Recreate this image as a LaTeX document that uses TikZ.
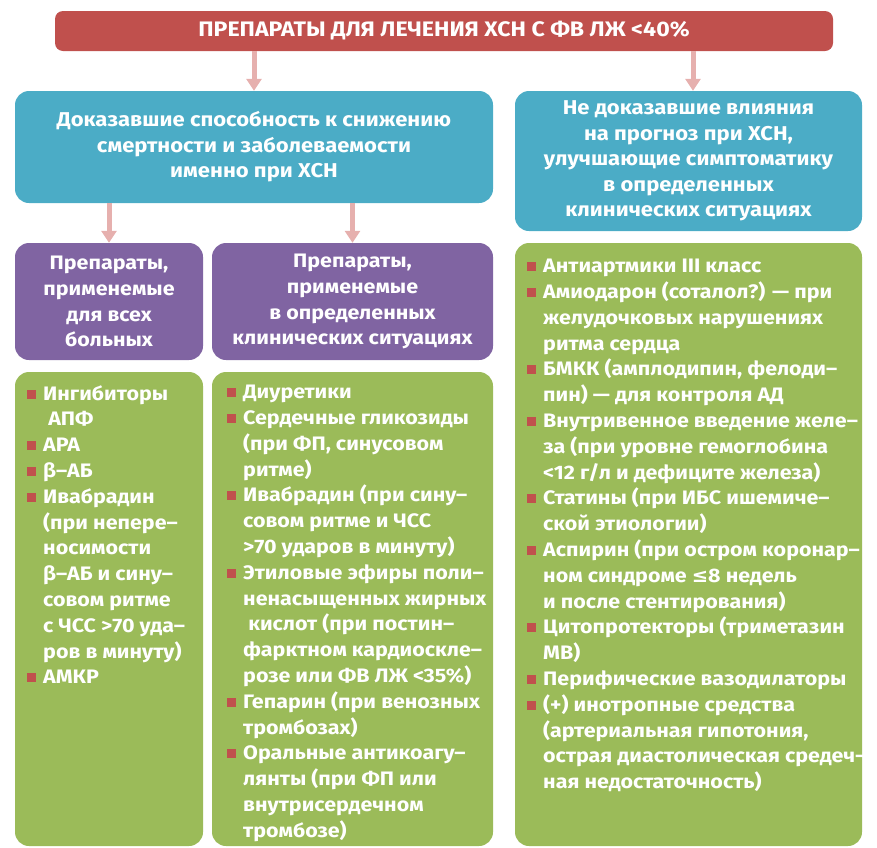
\documentclass[tikz,border=0pt]{standalone}
\usepackage{fontspec}
\setmainfont{Fira Sans}[FakeStretch=1.1]
\newfontfamily\symfont{DejaVu Sans}
\usetikzlibrary{arrows.meta}

\definecolor{boxred}{HTML}{C0504D}
\definecolor{boxaqua}{HTML}{4BACC6}
\definecolor{boxviolet}{HTML}{8064A2}
\definecolor{boxgreen}{HTML}{9BBB59}
\definecolor{arrowpink}{HTML}{E6B0AE}

\newcommand{\listfont}{\fontsize{19.5}{25.8}\selectfont\bfseries}
\newcommand{\headfont}{\fontsize{20}{25.4}\selectfont\bfseries}
\newcommand{\bul}{\makebox[16pt][l]{\textcolor{boxred}{\rule[1.5pt]{9pt}{9pt}}}}
\newcommand{\ind}{\hspace*{16pt}}

\begin{document}
\begin{tikzpicture}[x=1pt,y=-1pt,
    box/.style={rounded corners=14pt, inner sep=0pt, text=white, align=center, font=\listfont},
    link/.style={-{Triangle[width=15pt,length=12pt]}, line width=5pt, draw=arrowpink},
    list/.style={anchor=north west, inner sep=0pt, align=left, text=white, font=\listfont}]
    \useasboundingbox (0,0) rectangle (877,847);

    % top
    \node[box, rounded corners=8pt, fill=boxred, minimum width=778pt, minimum height=40pt](title) at (444,31)
        {\bfseries\fontsize{21}{23}\selectfont ПРЕПАРАТЫ ДЛЯ ЛЕЧЕНИЯ ХСН С ФВ ЛЖ <40\%};

    % second row
    \node[box, fill=boxaqua, font=\headfont, minimum width=478pt, minimum height=112pt](proven) at (254,147)
        {Доказавшие способность к снижению\\смертности и заболеваемости\\именно при ХСН};
    \node[box, fill=boxaqua, font=\headfont, minimum width=347pt, minimum height=140pt](unproven) at (688.5,161)
        {Не доказавшие влияния\\на прогноз при ХСН,\\улучшающие симптоматику\\в определенных\\клинических ситуациях};

    \draw[link](title.south -| proven.north)--(proven.north);
    \draw[link]([xshift=4.5pt]title.south -| unproven.north)--([xshift=4.5pt]unproven.north);

    % third row
    \node[box, fill=boxviolet, minimum width=188pt, minimum height=117pt](allpat) at (109,301.5)
        {Препараты,\\применемые\\для всех\\больных};
    \node[box, fill=boxviolet, minimum width=281pt, minimum height=117pt](specpat) at (352.5,301.5)
        {Препараты,\\применемые\\в определенных\\клинических ситуациях};

    \draw[link](proven.south -| allpat.north)--(allpat.north);
    \draw[link](proven.south -| specpat.north)--(specpat.north);

    % green lists
    \node[box, fill=boxgreen, minimum width=188pt, minimum height=474pt](listall) at (109,609){};
    \node[box, fill=boxgreen, minimum width=281pt, minimum height=474pt](listspec) at (352.5,609){};
    \node[box, fill=boxgreen, minimum width=347pt, minimum height=603pt](listother) at (688.5,544.5){};

    \node[list](textall) at (27,385){%
        \bul Ингибиторы\\
        \ind\ АПФ\\
        \bul АРА\\
        \bul β–АБ\\
        \bul Ивабрадин\\
        \ind(при непере–\\
        \ind носимости\\
        \ind β–АБ и сину–\\
        \ind совом ритме\\
        \ind с ЧСС >70 уда–\\
        \ind ров в минуту)\\
        \bul АМКР};

    \node[list](textspec) at (227,385){%
        \bul Диуретики\\
        \bul Сердечные гликозиды\\
        \ind(при ФП, синусовом\\
        \ind ритме)\\
        \bul Ивабрадин (при сину–\\
        \ind совом ритме и ЧСС\\
        \ind >70 ударов в минуту)\\
        \bul Этиловые эфиры поли–\\
        \ind ненасыщенных жирных\\
        \ind\ кислот (при постин–\\
        \ind фарктном кардиоскле–\\
        \ind розе или ФВ ЛЖ <35\%)\\
        \bul Гепарин (при венозных\\
        \ind тромбозах)\\
        \bul Оральные антикоагу–\\
        \ind лянты (при ФП или\\
        \ind внутрисердечном\\
        \ind тромбозе)};

    \node[list](textother) at (527,259){%
        \bul Антиартмики III класс\\
        \bul Амиодарон (соталол?) — при\\
        \ind желудочковых нарушениях\\
        \ind ритма сердца\\
        \bul БМКК (амплодипин, фелоди–\\
        \ind пин) — для контроля АД\\
        \bul Внутривенное введение желе–\\
        \ind за (при уровне гемоглобина\\
        \ind <12 г/л и дефиците железа)\\
        \bul Статины (при ИБС ишемиче–\\
        \ind ской этиологии)\\
        \bul Аспирин (при остром коронар–\\
        \ind ном синдроме {\symfont ≤}8 недель\\
        \ind и после стентирования)\\
        \bul Цитопротекторы (триметазин\\
        \ind МВ)\\
        \bul Перифические вазодилаторы\\
        \bul (+) инотропные средства\\
        \ind(артериальная гипотония,\\
        \ind острая диастолическая средеч–\\
        \ind ная недостаточность)};
\end{tikzpicture}
\end{document}
